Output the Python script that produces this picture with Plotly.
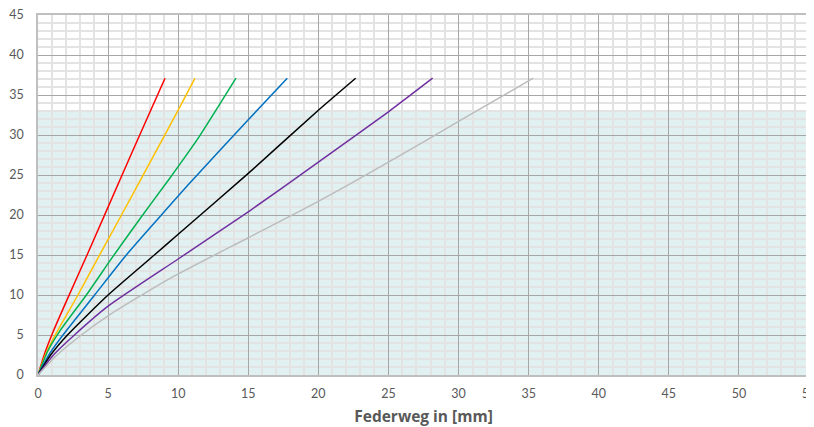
import plotly.graph_objects as go

# Spring characteristic curves (x: Federweg [mm], y: force)
red_x = [0, 0.5, 1.1, 2.3, 3.5, 4.7, 6.9, 9.06]
red_y = [0, 2.8, 5.5, 10.3, 15, 19.8, 28.6, 37.1]

yellow_x = [0, 0.6, 1.35, 2.85, 4.3, 5.8, 8, 10, 11.2]
yellow_y = [0, 2.8, 5.4, 10, 14.7, 19.5, 26.6, 33.1, 37.1]

green_x = [0, 0.7, 1.6, 3.45, 5.3, 7.3, 9.4, 11.5, 14.12]
green_y = [0, 3, 5.6, 10, 14.7, 19.6, 24.6, 29.8, 37.1]

blue_x = [0, 0.8, 1.78, 4.04, 6.3, 8.8, 10.7, 15, 17.78]
blue_y = [0, 2.6, 5, 10, 15, 20, 23.75, 31.9, 37.1]

black_x = [0, 0.9, 2.1, 5.0, 8.3, 10, 15, 20, 22.66]
black_y = [0, 2.5, 5, 10, 15, 17.6, 25.2, 33.1, 37.1]

purple_x = [0, 1.1, 2.6, 5, 10, 15, 20, 25, 28.15]
purple_y = [0, 2.5, 5, 8.6, 14.5, 20.4, 26.6, 32.9, 37.1]

gray_x = [0, 1.3, 3.09, 5, 9.42, 15, 20, 25, 30, 35.33]
gray_y = [0, 2.4, 5, 7.4, 12.08, 17.16, 21.7, 26.6, 31.7, 37.1]

series = [
    (red_x, red_y, "#ff0000"),
    (yellow_x, yellow_y, "#ffc000"),
    (green_x, green_y, "#00b050"),
    (blue_x, blue_y, "#0070c0"),
    (black_x, black_y, "#000000"),
    (purple_x, purple_y, "#7030a0"),
    (gray_x, gray_y, "#bcbcbc"),
]

shade_top = 33
x_max = 55
y_max = 45

fig = go.Figure()
for xs, ys, col in series:
    fig.add_trace(go.Scatter(x=xs, y=ys, mode="lines",
                             line=dict(color=col, width=1.5, shape="spline", smoothing=0.6),
                             showlegend=False, hoverinfo="skip"))

fig.add_shape(type="rect", xref="x", yref="y", x0=0, x1=x_max, y0=0, y1=shade_top,
              fillcolor="#e1f1f1", line=dict(width=0), layer="below")

font_fam = "Lato, 'Open Sans', sans-serif"
# page body has an 8px margin, so figure is sized/offset accordingly
fig.update_layout(
    width=806, height=419,
    margin=dict(l=30, r=5, t=7, b=52, autoexpand=False),
    plot_bgcolor="white", paper_bgcolor="white",
    font=dict(family=font_fam, color="#595959", size=12),
    xaxis=dict(range=[0, x_max], dtick=5, tick0=0, showgrid=True, automargin=False,
               gridcolor="#a6a6a6", gridwidth=1,
               minor=dict(dtick=1, showgrid=True, gridcolor="#e3e3e3", gridwidth=1.5),
               zeroline=False, showline=True, linecolor="#bfbfbf", mirror=True, linewidth=1.5,
               ticks="", ticklabelstandoff=6, ticklabeloverflow="allow",
               tickfont=dict(size=12.5, color="#595959"),
               title=dict(text="<b>Federweg in [mm]</b>",
                          font=dict(family="'Open Sans', Lato, sans-serif", size=15.5, color="#595959"),
                          standoff=17)),
    yaxis=dict(range=[0, y_max], dtick=5, tick0=0, showgrid=True, automargin=False,
               gridcolor="#a6a6a6", gridwidth=1,
               minor=dict(dtick=1, showgrid=True, gridcolor="#e3e3e3", gridwidth=1.5),
               zeroline=False, showline=True, linecolor="#bfbfbf", mirror=True, linewidth=1.5,
               ticks="", ticklabelstandoff=10, ticklabeloverflow="allow",
               tickfont=dict(size=12.5, color="#595959")),
)

fig.write_html("out.html")
